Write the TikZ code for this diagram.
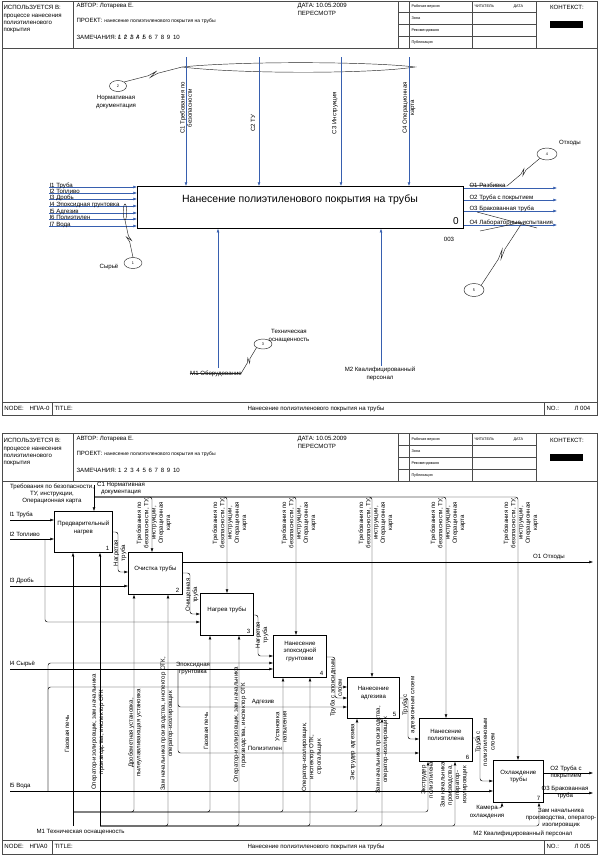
\documentclass[tikz,border=0pt]{standalone}
\usepackage{fontspec}
\setmainfont{Liberation Sans}
\usetikzlibrary{arrows.meta,calc,shapes.geometric}
\definecolor{ablue}{RGB}{55,95,175}
\definecolor{frmc}{RGB}{75,75,75}
\newcommand{\fsix}{\fontsize{6.1}{7.3}\selectfont}
\newcommand{\ffive}{\fontsize{5}{6}\selectfont}
\newcommand{\ffour}{\fontsize{3.8}{4.6}\selectfont}
\newcommand{\xo}[1]{\rlap{/}#1}
\newcommand{\zig}[2]{\draw[cl] (#1) -- ($(#1)!0.42!(#2)$) -- ($(#1)!0.56!(#2)!2.2pt!90:(#2)$) -- ($(#1)!0.44!(#2)!2.2pt!-90:(#2)$) -- ($(#1)!0.58!(#2)$) -- (#2);}
\newcommand{\hdr}[3]{%
\begin{scope}[shift={(0,#2)}]
\draw[frm] (2,48) -- (597,48);
\foreach \xx in {73,398,409,472,536} \draw[frm] (\xx,1) -- (\xx,48);
\foreach \yy in {12.5,24.5,36.5} \draw[frm] (398,\yy) -- (536,\yy);
\node[t6, anchor=north west, align=left] (#1use) at (3,5) {ИСПОЛЬЗУЕТСЯ В:\\процессе нанесения\\полиэтиленового\\покрытия};
\node[t6, anchor=west] (#1aut) at (76,6) {АВТОР: Лотарева Е.};
\node[t6, anchor=west] (#1prj) at (76,21) {ПРОЕКТ: {\ffive нанесение полиэтиленового покрытия на трубы}};
\node[t6, anchor=west] (#1zam) at (76,37) {ЗАМЕЧАНИЯ: #3};
\node[t6, anchor=west] (#1dat) at (297,6) {ДАТА: 10.05.2009};
\node[t6, anchor=west] (#1per) at (297,13.5) {ПЕРЕСМОТР};
\node[t4, anchor=west] (#1rv) at (411,6.5) {Рабочая версия};
\node[t4, anchor=west] (#1zo) at (411,18.5) {Зона};
\node[t4, anchor=west] (#1rk) at (411,30.5) {Рекомендовано};
\node[t4, anchor=west] (#1pb) at (411,42.5) {Публикация};
\node[t4, anchor=west] (#1ch) at (474,6.5) {ЧИТАТЕЛЬ};
\node[t4, anchor=west] (#1da) at (513,6.5) {ДАТА};
\node[t6] (#1ctx) at (567,7) {КОНТЕКСТ:};
\fill (550,21) rectangle (583,28);
\end{scope}}
\newcommand{\ftr}[4]{%
\begin{scope}[shift={(0,#2)}]
\draw[frm] (2,0) -- (597,0);
\draw[frm] (52,0) -- (52,13.5);
\draw[frm] (544,0) -- (544,13.5);
\node[t6, anchor=west] (#1nd) at (4,6.7) {NODE:};
\node[t6, anchor=west] (#1nv) at (29,6.7) {#3};
\node[t6, anchor=west] (#1tt) at (54,6.7) {TITLE:};
\node[t6] (#1ti) at (316,6.7) {Нанесение полиэтиленового покрытия на трубы};
\node[t6, anchor=west] (#1no) at (546,6.7) {NO.:};
\node[t6, anchor=west] (#1nn) at (574,6.7) {#4};
\end{scope}}
\begin{document}
\begin{tikzpicture}[x=1pt,y=-1pt,
 frm/.style={draw=frmc, line width=0.75pt},
 t6/.style={font=\fsix, inner sep=0.3pt},
 t4/.style={font=\ffour, inner sep=0.3pt},
 rl/.style={t6, rotate=90, align=center},
 pbox/.style={draw=black, line width=0.75pt, anchor=north west, inner sep=0pt},
 arr2/.style={draw=black, line width=0.45pt, rounded corners=2.5pt, -{Latex[length=3.6pt,width=2.8pt]}},
 arr1/.style={draw=ablue, line width=0.5pt, -{Latex[length=3.6pt,width=2.8pt]}},
 cl/.style={draw=black!85, line width=0.45pt},
 ko/.style={cl, ellipse, inner sep=0pt, font=\ffour},
]
\useasboundingbox (0,0) rectangle (600,855);
\fill[white] (0,0) rectangle (600,855);

% ================= PAGE 1 =================
\draw[frm] (2,1) rectangle (597,415);
\hdr{a}{0}{\xo{1}~\,\xo{2}~\,\xo{3}~\,\xo{4}~\,\xo{5}~\,6~\,7~\,8~\,9~\,10}
\ftr{a}{402}{НП/А-0}{Л 004}

\node[pbox, minimum width=326pt, minimum height=42pt] (mb) at (137,186) {};
\node[font=\fontsize{10.5}{12.5}\selectfont, inner sep=0pt] (mbt) at (300,200) {Нанесение полиэтиленового покрытия на трубы};
\node[font=\fontsize{10}{12}\selectfont, inner sep=0pt] (mbn) at (456,221) {0};
\node[t6] (mbc) at (449,239) {003};

% lens (tunnel)
\draw[cl] (182,67) .. controls (240,61) and (370,61.5) .. (415,67) .. controls (370,74) and (240,74) .. (182,67);

% inputs
\foreach \yy/\ltxt [count=\i] in {187/I1 Труба,193/I2 Топливо,199/I3 Дробь,206/I4 Эпоксидная грунтовка,213/I5 Адгезив,219/I6 Полиэтилен,226/I7 Вода}{
 \draw[arr1] (49,\yy) -- (mb.west |- 0,\yy);
 \node[t6, anchor=base west] (ai\i) at (49,\yy+0.6) {\ltxt};
}
% controls
\foreach \xx in {186,259,341,409} \draw[arr1] (\xx,57) -- (mb.north -| \xx,0);
\node[rl] (ac1) at (186,108) {C1 Требования по\\безопасности};
\node[rl] (ac2) at (253,123) {C2 ТУ};
\node[rl] (ac3) at (335,113) {C3 Инструкция};
\node[rl] (ac4) at (409,108) {C4 Операционная\\карта};
% outputs
\foreach \yy/\ltxt [count=\i] in {188/O1 Разбивка,200/O2 Труба с покрытием,211/O3 Бракованная труба,225/O4 Лабораторные испытания}{
 \draw[arr1] (mb.east |- 0,\yy) -- (557,\yy);
 \node[t6, anchor=base west] (ao\i) at (469,\yy-0.8) {\ltxt};
}
% mechanisms
\draw[arr1] (218,368) -- (mb.south -| 218,0);
\draw[arr1] (381,366) -- (mb.south -| 381,0);
\node[t6] (am1) at (216,373.5) {M1 Оборудование};
\draw[cl] (am1.west) -- (241,373.5);
\node[t6, align=center] (am2) at (380,374) {M2 Квалифицированный\\персонал};

% callouts
\node[ko, minimum width=17pt, minimum height=11pt] (k2) at (118,86) {2};
\node[t6, align=center] (k2l) at (116,102) {Нормативная\\документация};
\zig{k2.north east}{182,67}
\node[ko, minimum width=3.5pt, minimum height=16pt] (k1a) at (125,212) {};
\node[ko, minimum width=18pt, minimum height=11pt] (k1) at (133,263) {1};
\node[t6] (k1l) at (109,267) {Сырьё};
\zig{k1a.south}{k1.north}
\node[ko, minimum width=20pt, minimum height=12pt] (k4) at (547,154) {4};
\node[t6] (k4l) at (570,143) {Отходы};
\zig{k4.south west}{507,186}
\draw[cl] (469,185.5) -- (507,186);
\node[ko, minimum width=20pt, minimum height=13pt] (k5) at (474,290) {5};
\zig{522,223}{k5.north east}
\draw[cl] (480,231) -- (523,222);
\draw[cl] (477,212) -- (537,228);
\node[ko, minimum width=18pt, minimum height=10pt] (k3) at (263,344) {3};
\node[t6, align=center] (k3l) at (289,336) {Техническая\\оснащенность};
\zig{k3.south west}{241,373.5}

% ================= PAGE 2 =================
\draw[frm] (2,433) rectangle (597,854);
\hdr{b}{433}{1~\,2~\,3~\,4~\,5~\,6~\,7~\,8~\,9~\,10}
\ftr{b}{840}{НП/А0}{Л 005}

% boxes
\node[pbox, minimum width=58pt, minimum height=41pt] (b1) at (54,511) {};
\node[pbox, minimum width=54pt, minimum height=42pt] (b2) at (128,552) {};
\node[pbox, minimum width=53pt, minimum height=42pt] (b3) at (200,593) {};
\node[pbox, minimum width=53pt, minimum height=42pt] (b4) at (273,635) {};
\node[pbox, minimum width=52pt, minimum height=41pt] (b5) at (347,677) {};
\node[pbox, minimum width=53pt, minimum height=43pt] (b6) at (419,718) {};
\node[pbox, minimum width=50pt, minimum height=42pt] (b7) at (493,760) {};
\node[t6, align=center] (b1t) at ($(b1.center)+(0,-4)$) {Предварительный\\нагрев};
\node[t6, align=center] (b2t) at ($(b2.center)+(0,-4)$) {Очистка трубы};
\node[t6, align=center] (b3t) at ($(b3.center)+(0,-4)$) {Нагрев трубы};
\node[t6, align=center] (b4t) at ($(b4.center)+(0,-5)$) {Нанесение\\эпоксидной\\грунтовки};
\node[t6, align=center] (b5t) at ($(b5.center)+(0,-5)$) {Нанесение\\адгезива};
\node[t6, align=center] (b6t) at ($(b6.center)+(0,-5)$) {Нанесение\\полиэтилена};
\node[t6, align=center] (b7t) at ($(b7.center)+(0,-5)$) {Охлаждение\\трубы};
\foreach \k in {1,...,7} \node[t6, anchor=south east] (b\k n) at ($(b\k.south east)+(-3,-1.5)$) {\k};

% inputs
\draw[arr2] (10,520) -- (b1.west |- 0,520);
\draw[arr2] (10,539) -- (b1.west |- 0,539);
\draw[arr2] (45,539) -- (45,622) -- (b3.west |- 0,622);
\draw[arr2] (10,586) -- (b2.west |- 0,586);
\draw[arr2] (10,669) -- (b4.west |- 0,669);
\draw[arr2] (178,669) -- (178,707) -- (b5.west |- 0,707);
\draw[arr2] (178,669) -- (178,753) -- (b6.west |- 0,753);
\draw[arr2] (10,791) -- (b7.west |- 0,791);
\draw[arr2] (48,791) -- (48,663) -- (b4.west |- 0,663);
\draw[arr2] (48,791) -- (48,687) -- (b5.west |- 0,687);
\node[t6, anchor=south west] (li1) at (9,518.5) {I1 Труба};
\node[t6, anchor=south west] (li2) at (9,537.5) {I2 Топливо};
\node[t6, anchor=south west] (li3) at (9,584.5) {I3 Дробь};
\node[t6, anchor=south west] (li4) at (9,667.5) {I4 Сырьё};
\node[t6, anchor=south west] (li5) at (9,789.5) {I5 Вода};
\node[t6, align=center] (lep) at (193,668.5) {Эпоксидная\\грунтовка};
\node[t6, anchor=south] (lad) at (263,705.5) {Адгезив};
\node[t6, anchor=south] (lpe) at (265,751.5) {Полиэтилен};

% controls
\draw[arr2] (94,485) -- (b1.north -| 94,0);
\draw[arr2] (94,497) -- (152,497) -- (b2.north -| 152,0);
\draw[arr2] (94,497) -- (227,497) -- (b3.north -| 227,0);
\draw[arr2] (94,497) -- (296,497) -- (b4.north -| 296,0);
\draw[arr2] (94,497) -- (372,497) -- (b5.north -| 372,0);
\draw[arr2] (94,497) -- (446,497) -- (b6.north -| 446,0);
\draw[arr2] (94,497) -- (518,497) -- (b7.north -| 518,0);
\node[t6, align=center] (c1a) at (52,494) {Требования по безопасности,\\ТУ, инструкции,\\Операционная карта};
\node[t6, align=center] (c1b) at (121,488.5) {C1 Нормативная\\документация};
\foreach \xx/\k in {154/2,230/3,299/4,376/5,448/6,521/7}
 \node[rl] (cl\k) at (\xx,523) {Требования по\\безопасности, ТУ,\\инструкции,\\Операционная\\карта};

% outputs
\draw[arr2] (b1.east |- 0,532) -- (118,532) -- (118,572) -- (b2.west |- 0,572);
\node[rl] (o1l) at (120,553) {Нагретая\\труба};
\draw[arr2] (b2.east |- 0,562) -- (593,562);
\node[t6] (o1x) at (549,557) {O1 Отходы};
\draw[arr2] (b2.east |- 0,573) -- (190,573) -- (190,614) -- (b3.west |- 0,614);
\node[rl] (o2l) at (192,595) {Очищенная\\труба};
\draw[arr2] (b3.east |- 0,615) -- (258,615) -- (258,656) -- (b4.west |- 0,656);
\node[rl] (o3l) at (262,635) {Нагретая\\труба};
\draw[arr2] (b4.east |- 0,657) -- (335,657) -- (335,698) -- (b5.west |- 0,698);
\node[rl] (o4l) at (336,688) {Труба с эпоксидным\\слоем};
\draw[arr2] (b5.east |- 0,698) -- (408,698) -- (408,739) -- (b6.west |- 0,739);
\node[rl] (o5l) at (409,705) {Труба с\\адгезионным слоем};
\draw[arr2] (b6.east |- 0,738) -- (480,738) -- (480,781) -- (b7.west |- 0,781);
\node[rl] (o6l) at (485,742) {Труба с\\полиэтиленовым\\слоем};
\draw[arr2] (b7.east |- 0,773) -- (593,773);
\node[t6, align=center] (o7a) at (566,772.5) {O2 Труба с\\покрытием};
\draw[arr2] (b7.east |- 0,793) -- (593,793);
\node[t6, align=center] (o7b) at (565,792.5) {O3 Бракованная\\труба};

% mechanisms
\draw[arr2] (73,826) -- (b1.south -| 73,0);
\foreach \xx/\bb in {134/b2,210/b3,283/b4,357/b5,428/b6}
 \draw[arr2] (73,812) -- (\xx,812) -- (\bb.south -| \xx,0);
\draw[arr2] (100,826) -- (b1.south -| 100,0);
\foreach \xx/\bb in {168/b2,239/b3,310/b4,382/b5,455/b6,539/b7}
 \draw[arr2] (100,826) -- (\xx,826) -- (\bb.south -| \xx,0);
\draw[arr2] (496,808) -- (502,808) -- (b7.south -| 502,0);

\node[rl] (m11) at (67,734) {Газовая печь};
\node[rl] (m12) at (98,732) {Оператор-изолировщик, зам.начальника\\производства, инспектор ОТК};
\node[rl] (m21) at (135,733) {Дробеметная установка,\\пылеулавливающая установка};
\node[rl] (m22) at (167,724) {Зам начальника производства, инспектор ОТК,\\оператор-изолировщик};
\node[rl] (m31) at (206,731) {Газовая печь};
\node[rl] (m32) at (240,725) {Оператор-изолировщик, зам.начальника\\производства, инспектор ОТК};
\node[rl] (m41) at (281,727) {Установка\\напыления};
\node[rl] (m42) at (312,757) {Оператор-изолировщик,\\инспектор ОТК,\\строгальщик};
\node[rl] (m51) at (353,752) {Экструдер адгезива};
\node[rl] (m52) at (382,750) {Зам начальника производства,\\оператор-изолировщик};
\node[rl] (m61) at (427,780) {Экструдер\\полиэтилена};
\node[rl] (m62) at (454,785) {Зам начальника\\производства,\\оператор-\\изолировщик};
\node[t6, align=center] (m71) at (487,812) {Камера\\охлаждения};
\node[t6, align=center] (m72) at (561,818) {Зам начальника\\производства, оператор-\\изолировщик};
\node[t6, anchor=west] (m1l) at (36,832) {M1 Техническая оснащенность};
\node[t6] (m2l) at (523,834) {M2 Квалифицированный персонал};
\end{tikzpicture}
\end{document}
